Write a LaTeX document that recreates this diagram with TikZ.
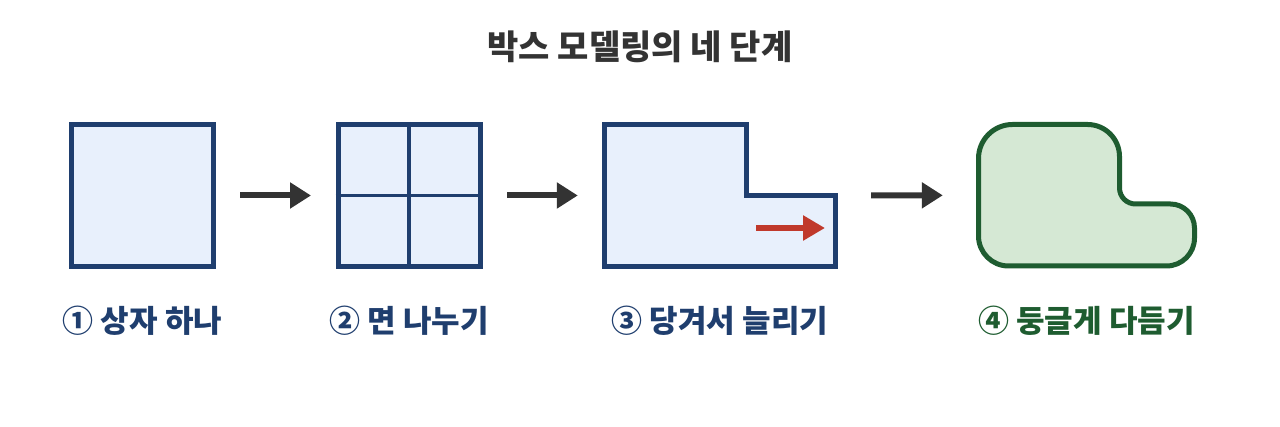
\documentclass[tikz,border=0pt]{standalone}
\usepackage{fontspec}
\setmainfont{Noto Sans CJK KR}
\usepackage{xcolor}
\usetikzlibrary{arrows.meta, positioning}
\definecolor{boxblue}{RGB}{31, 62, 110}
\definecolor{boxfill}{RGB}{232, 240, 252}
\definecolor{arrowgray}{RGB}{51, 51, 51}
\definecolor{pullred}{RGB}{192, 57, 43}
\definecolor{roundgreen}{RGB}{30, 92, 48}
\definecolor{roundfill}{RGB}{213, 232, 212}
\tikzstyle{stage} = [
    rectangle,
    draw=boxblue,
    fill=boxfill,
    line width=5pt,
    minimum width=142pt,
    minimum height=142pt,
    inner sep=0pt
]
\tikzstyle{holder} = [
    rectangle,
    minimum height=147pt,
    inner sep=0pt
]
\tikzstyle{arrow} = [
    line width=6pt,
    -{Triangle[length=21pt, width=25pt]},
    color=arrowgray
]
\tikzstyle{caption} = [
    font=\fontsize{31}{35}\selectfont\bfseries,
    text=boxblue
]

\begin{document}
\begin{tikzpicture}[x=1pt, y=1pt]
        \useasboundingbox (0, 0) rectangle (1280, 427);

        % Title
        \node[font=\fontsize{34}{39}\selectfont\bfseries, text=arrowgray] (title) at (640, 380) {박스 모델링의 네 단계};

        % Box
        \node[stage] (box1) at (142.5, 231.5) {};

        % Split faces
        \node[stage] (box2) at (409, 231.5) {};
        \draw[boxblue, line width=3.5pt] (box2.north) -- (box2.south);
        \draw[boxblue, line width=3.5pt] (box2.west) -- (box2.east);

        % Extruded box
        \node[holder, minimum width=236pt] (box3) at (720, 231.5) {};
        \draw[draw=boxblue, fill=boxfill, line width=5pt]
            (604.5, 302.5) -- (746.5, 302.5) -- (746.5, 231) -- (835.5, 231)
            -- (835.5, 160.5) -- (604.5, 160.5) -- cycle;
        \coordinate (pullstart) at (756, 199);
        \coordinate (pullend) at (825, 199);
        \draw[pullred, line width=5.5pt, -{Triangle[length=22pt, width=24pt]}] (pullstart) -- (pullend);

        % Rounded shape
        \node[holder, minimum width=221pt] (shape4) at (1086.5, 231.75) {};
        \draw[draw=roundgreen, fill=roundfill, line width=5pt]
            (978.5, 191) -- (978.5, 268.5) arc[start angle=180, end angle=90, radius=34]
            -- (1087.5, 302.5) arc[start angle=90, end angle=0, radius=32]
            -- (1119.5, 239) arc[start angle=180, end angle=270, radius=16]
            -- (1170.5, 223) arc[start angle=90, end angle=0, radius=24]
            -- (1194.5, 189) arc[start angle=0, end angle=-90, radius=28]
            -- (1008.5, 161) arc[start angle=270, end angle=180, radius=30]
            -- cycle;

        % Arrows
        \draw[arrow, shorten <=24pt, shorten >=24.5pt] (box1) -- (box2);
        \draw[arrow, shorten <=24.5pt, shorten >=24pt] (box2) -- (box3);
        \draw[arrow, shorten <=33pt, shorten >=33pt] (box3) -- (shape4);

        % Captions
        \node[caption] (cap1) at (142.5, 106) {① 상자 하나};
        \node[caption] (cap2) at (409, 106) {② 면 나누기};
        \node[caption] (cap3) at (720, 106) {③ 당겨서 늘리기};
        \node[caption, text=roundgreen] (cap4) at (1086.5, 106) {④ 둥글게 다듬기};
    \end{tikzpicture}
\end{document}
